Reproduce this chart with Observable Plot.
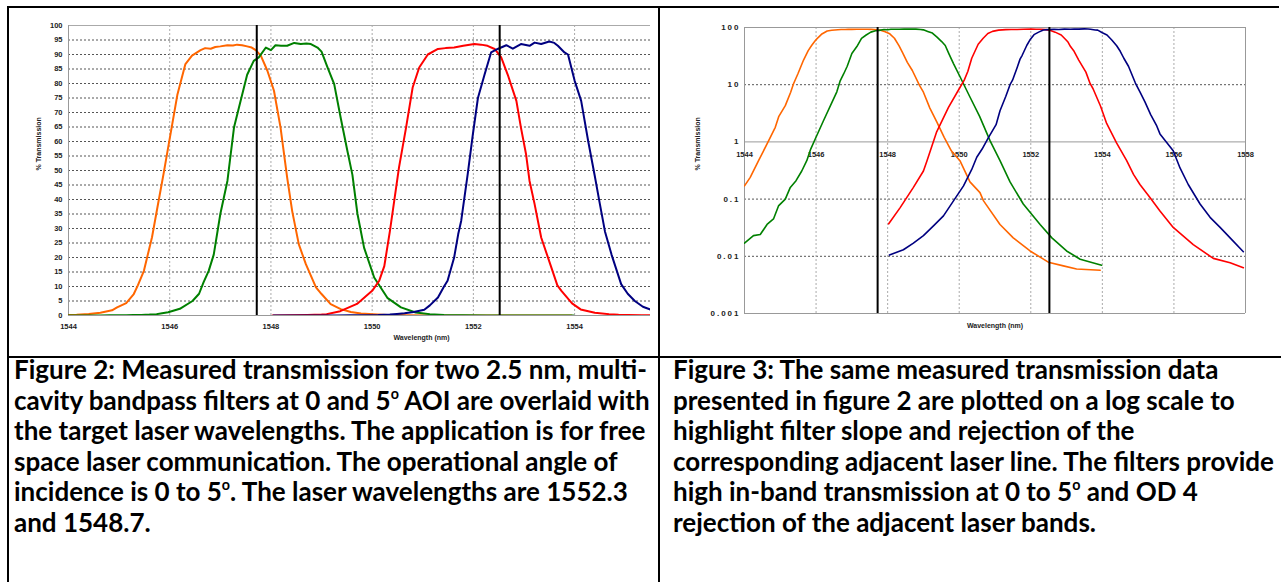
<!DOCTYPE html>
<html><head><meta charset="utf-8">
<script src="https://cdn.jsdelivr.net/npm/d3@7"></script>
<script src="https://cdn.jsdelivr.net/npm/@observablehq/plot@0.6"></script>
<style>
body{margin:0;background:#fff;}
#page{position:relative;width:1281px;height:582px;overflow:hidden;background:#fff;}
.bd{position:absolute;background:#000;}
.cap{position:absolute;font-family:Lato,"Noto Sans",sans-serif;font-weight:bold;font-size:26px;line-height:30.5px;color:#000;white-space:nowrap;}
.cap sup{font-size:55%;line-height:0;vertical-align:baseline;position:relative;top:-0.75em;}
#lin,#log{position:absolute;top:0;}
#lin svg text, #log svg text{font-family:'Liberation Sans',Arial,sans-serif !important;font-weight:bold !important;fill:#222;}
#log g[aria-label="xticks"] text, #log g[aria-label="y-axis tick label"] text{letter-spacing:2px;font-size:8px;}
#log g[aria-label="xtitle"] text{letter-spacing:1.8px;}
</style></head><body>
<div id="page">
  <div id="lin" style="left:0px"></div>
  <div id="log" style="left:659px"></div>
  <div class="bd" style="left:7px;top:6px;width:1272px;height:2px"></div>
  <div class="bd" style="left:7px;top:6px;width:2px;height:576px"></div>
  <div class="bd" style="left:658px;top:6px;width:2px;height:576px"></div>
  <div class="bd" style="left:7px;top:356px;width:1274px;height:2px"></div>
  <div class="cap" style="left:14px;top:354px">Figure 2: Measured transmission for two 2.5 nm, multi-<br>cavity bandpass filters at 0 and 5<sup>o</sup> AOI are overlaid with<br>the target laser wavelengths. The application is for free<br>space laser communication. The operational angle of<br>incidence is 0 to 5<sup>o</sup>. The laser wavelengths are 1552.3<br>and 1548.7.</div>
  <div class="cap" style="left:673px;top:354px">Figure 3: The same measured transmission data<br>presented in figure 2 are plotted on a log scale to<br>highlight filter slope and rejection of the<br>corresponding adjacent laser line. The filters provide<br>high in-band transmission at 0 to 5<sup>o</sup> and OD 4<br>rejection of the adjacent laser bands.</div>
</div>
<script>
// Measured transmission (%) vs wavelength (nm)
const orangeWl = [1544.0,1544.16,1544.4,1544.63,1544.86,1544.96,1545.14,1545.29,1545.37,1545.49,1545.65,1545.78,1545.88,1545.98,1546.05,1546.15,1546.31,1546.44,1546.61,1546.7,1546.81,1546.9,1547.0,1547.14,1547.25,1547.33,1547.43,1547.53,1547.62,1547.7,1547.8,1547.93,1548.06,1548.19,1548.32,1548.42,1548.55,1548.69,1548.89,1549.0,1549.18,1549.38,1549.58,1549.78,1550.02,1550.3,1550.58,1550.68,1551.14,1551.51,1551.98,1552.49,1552.91,1553.28,1553.94];
const orangeT  = [0.17,0.24,0.48,0.92,1.8,2.8,4.3,7.4,10.4,15.4,27,39.5,49,59,66,76,86.7,89.6,91.5,92.2,92,92.6,92.8,93.2,93.1,93.4,93.2,92.8,92.4,91.5,89.6,84.4,77.5,64.8,47.6,36,24.6,17.7,9.7,7.4,3.9,2.2,1.2,0.7,0.47,0.2,0.13,0.093,0.036,0.021,0.0124,0.0079,0.0068,0.006,0.0057];

const greenWl = [1544.0,1544.25,1544.44,1544.63,1544.81,1544.95,1545.14,1545.28,1545.44,1545.6,1545.74,1545.85,1545.97,1546.2,1546.45,1546.58,1546.67,1546.77,1546.87,1547.0,1547.14,1547.27,1547.4,1547.53,1547.66,1547.76,1547.9,1548.0,1548.09,1548.2,1548.32,1548.46,1548.59,1548.7,1548.79,1548.92,1549.0,1549.12,1549.25,1549.38,1549.51,1549.61,1549.71,1549.84,1550.04,1550.3,1550.57,1550.86,1551.14,1551.42,1551.79,1552.26,1552.59,1553.0,1553.38,1553.98];
const greenT  = [0.017,0.023,0.024,0.036,0.045,0.076,0.1,0.16,0.21,0.31,0.47,0.75,1.1,2.3,5.0,7.5,11.5,15.4,21,35,46.4,64.8,74,83,87.8,89,92.4,91.5,93.2,93,93,94,93.6,93.8,93.6,92.4,91,85.5,79.8,68,56.8,48.5,35,23.4,13.1,6.1,2.8,1.05,0.47,0.2,0.082,0.036,0.021,0.0124,0.0089,0.007];

const redWl = [1548.03,1548.35,1548.72,1549.0,1549.1,1549.37,1549.7,1550.0,1550.14,1550.24,1550.35,1550.53,1550.67,1550.8,1550.93,1551.1,1551.3,1551.45,1551.62,1551.8,1552.02,1552.15,1552.28,1552.42,1552.55,1552.68,1552.85,1552.94,1553.04,1553.11,1553.21,1553.34,1553.54,1553.66,1553.74,1553.95,1554.12,1554.4,1554.68,1554.87,1555.05,1555.33,1555.61,1555.98,1556.54,1557.1,1557.57,1557.94];
const redT  = [0.037,0.071,0.16,0.31,0.47,1.5,4.0,8.5,12,17,29,51,64.8,78.6,85.5,90,91.9,92.2,92.4,93,93.6,93.4,93,91.9,89,83,74,64.8,55.7,46.4,38.4,26.9,16.6,10.4,8.5,4.2,2.1,0.95,0.47,0.27,0.18,0.107,0.062,0.032,0.016,0.0092,0.0077,0.0063];

const blueWl = [1548.05,1548.44,1548.72,1549.0,1549.28,1549.56,1549.84,1550.12,1550.35,1550.49,1550.64,1550.82,1551.03,1551.14,1551.3,1551.42,1551.49,1551.62,1551.7,1551.76,1551.89,1551.99,1552.09,1552.22,1552.35,1552.48,1552.65,1552.78,1552.94,1553.11,1553.21,1553.34,1553.5,1553.6,1553.67,1553.8,1553.87,1554.0,1554.13,1554.27,1554.4,1554.5,1554.6,1554.73,1554.92,1555.05,1555.19,1555.35,1555.52,1555.61,1555.98,1556.17,1556.4,1556.73,1557.01,1557.29,1557.57,1557.94];
const blueT  = [0.0105,0.013,0.017,0.023,0.034,0.051,0.093,0.17,0.33,0.54,0.75,1.2,2.0,3.5,6.2,10,12,20,28,32.7,49,62.5,75,83,90.7,91.9,93.2,92,93.6,93,94.1,93.6,94.5,94,93,90.7,90,81,74,60,48,38.4,29,21,10.8,7.5,5,3.0,1.9,1.38,0.7,0.35,0.18,0.082,0.048,0.032,0.021,0.012];

const seriesNames  = ["orange","green","red","blue"];
const seriesColors = ["#FF6600","#008000","#FF0000","#000080"];
const laserWl = [1547.72, 1552.52];

const linTicksX = [1544,1546,1548,1550,1552,1554];
const linTicksY = [0,5,10,15,20,25,30,35,40,45,50,55,60,65,70,75,80,85,90,95,100];
const logTicksX = [1544,1546,1548,1550,1552,1554,1556,1558];
const logTicksY = [0.001,0.01,0.1,1,10,100];

const wlSets = [orangeWl, greenWl, redWl, blueWl];
const tSets  = [orangeT, greenT, redT, blueT];
const rows = seriesNames.flatMap((name, k) => wlSets[k].map((w, i) => ({name, wl: w, t: tSets[k][i]})));

function lines(width) {
  return seriesNames.map((name, k) =>
    Plot.line(rows.filter(r => r.name === name), {x: "wl", y: "t", stroke: seriesColors[k], strokeWidth: width, clip: true, curve: "linear"}));
}

const font = "'Liberation Sans', Arial, sans-serif";

const lin = Plot.plot({
  width: 658, height: 356,
  marginLeft: 68, marginRight: 8, marginTop: 25, marginBottom: 41,
  x: {domain: [1544, 1555.5], axis: null},
  y: {domain: [0, 100], axis: null},
  style: {fontFamily: font, fontSize: "7.5px", fontWeight: "bold", color: "#222", background: "transparent", overflow: "visible"},
  marks: [
    Plot.ruleY(linTicksY.filter(d => d > 0 && d < 100), {stroke: "#555", strokeDasharray: "2,2", strokeWidth: 1}),
    Plot.ruleX(linTicksX.filter(d => d > 1544), {stroke: "#aaa", strokeDasharray: "2,2", strokeWidth: 1}),
    Plot.ruleY([100], {stroke: "#aaa"}),
    Plot.ruleY([0], {stroke: "#999"}),
    Plot.ruleX([1544], {stroke: "#999"}),
    Plot.axisX(linTicksX, {tickSize: 0, tickPadding: 8, label: null, tickFormat: d => String(d)}),
    Plot.axisY(linTicksY, {tickSize: 0, tickPadding: 6, label: null, tickFormat: d => String(d)}),
    ...lines(2),
    Plot.ruleX(laserWl, {stroke: "#000", strokeWidth: 2}),
    Plot.text(["% Transmission"], {text: d => d, frameAnchor: "left", dx: -30, rotate: -90, fontSize: 7}),
    Plot.text(["Wavelength (nm)"], {text: d => d, frameAnchor: "bottom", dx: 62, dy: 24, fontSize: 7})
  ]
});
document.getElementById("lin").appendChild(lin);

const log = Plot.plot({
  width: 622, height: 356,
  marginLeft: 85, marginRight: 36, marginTop: 27, marginBottom: 43,
  x: {domain: [1544, 1558], axis: null},
  y: {type: "log", domain: [0.001, 100], axis: null},
  style: {fontFamily: font, fontSize: "7.5px", fontWeight: "bold", color: "#222", background: "transparent", overflow: "visible"},
  marks: [
    Plot.ruleY([0.01, 0.1, 10], {stroke: "#555", strokeDasharray: "2,2", strokeWidth: 1}),
    Plot.ruleX(logTicksX.filter(d => d > 1544 && d < 1558), {stroke: "#aaa", strokeDasharray: "2,2", strokeWidth: 1}),
    Plot.ruleY([0.001, 1, 100], {stroke: "#999"}),
    Plot.ruleX([1544, 1558], {stroke: "#999"}),
    Plot.axisY(logTicksY, {tickSize: 0, tickPadding: 4, label: null, tickFormat: d => String(d)}),
    Plot.text(logTicksX, {x: d => d, y: () => 1, dy: 13, text: d => String(d), ariaLabel: "xticks"}),
    ...lines(1.6),
    Plot.ruleX(laserWl, {stroke: "#000", strokeWidth: 2}),
    Plot.text(["% Transmission"], {text: d => d, frameAnchor: "left", dx: -47, rotate: -90, fontSize: 7}),
    Plot.text(["Wavelength (nm)"], {text: d => d, frameAnchor: "bottom", dy: 14, fontSize: 7, ariaLabel: "xtitle"})
  ]
});
document.getElementById("log").appendChild(log);
</script>
</body></html>
